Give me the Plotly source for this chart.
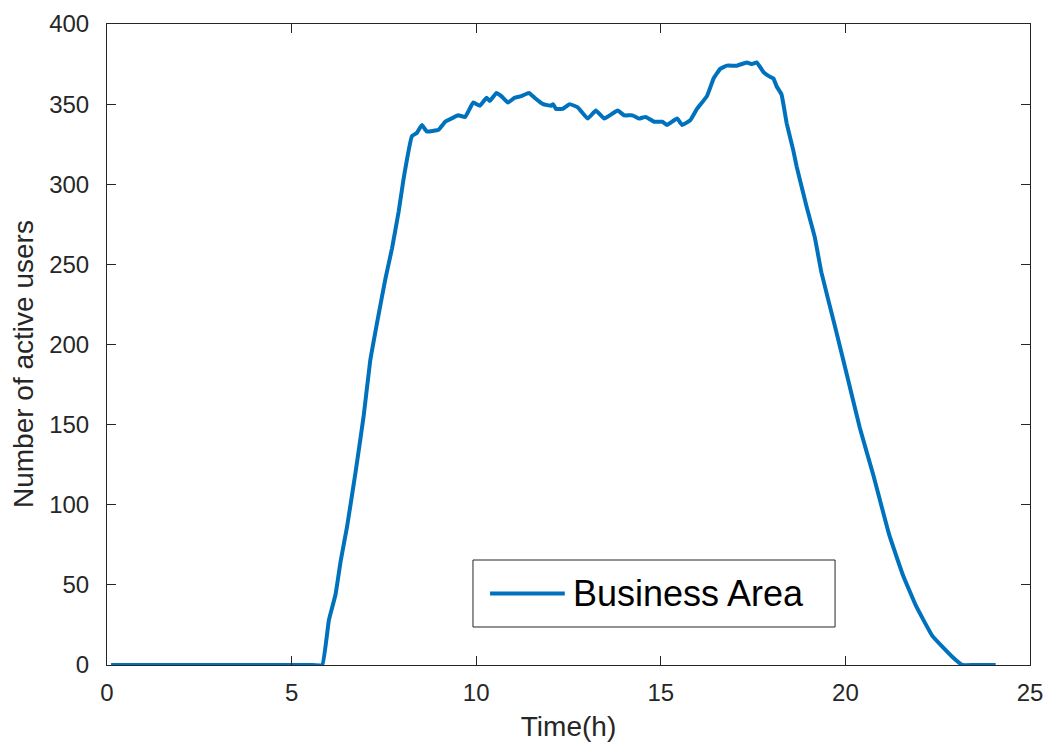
import plotly.graph_objects as go

time_h = [0.11, 2.0, 4.0, 5.5, 5.83, 6.01, 6.19, 6.33, 6.5, 6.73, 6.95, 7.13, 7.31, 7.54, 7.72, 7.9, 8.03,
          8.26, 8.39, 8.53, 8.66, 8.98, 9.16, 9.33, 9.51, 9.7, 9.92, 10.1, 10.28, 10.37,
          10.55, 10.68, 10.86, 11.04, 11.22, 11.43, 11.58, 11.81, 12.03, 12.08, 12.16, 12.34,
          12.53, 12.75, 13.02, 13.24, 13.47, 13.83, 14.01, 14.23, 14.41, 14.59, 14.82, 15.04,
          15.17, 15.44, 15.58, 15.8, 15.98, 16.25, 16.43, 16.61, 16.79, 17.06, 17.33, 17.47,
          17.6, 17.78, 17.96, 18.05, 18.14, 18.27, 18.41, 18.59, 18.68, 18.95, 19.17, 19.35,
          19.71, 20.03, 20.39, 20.75, 21.19, 21.56, 21.91, 22.36, 22.9, 23.17, 23.5, 24.07]
users = [0, 0, 0, 0, 0, 28, 44, 65, 86, 120, 155, 190, 213, 241, 260, 283, 303,
         330, 332, 337, 333, 334, 339, 341, 343, 342, 351, 349, 354, 352,
         357, 355, 351, 354, 355, 357, 354, 350, 349, 350, 347, 347,
         350, 348, 341, 346, 341, 346, 343, 343, 341, 342, 339, 339,
         337, 341, 337, 340, 347, 355, 366, 372, 374, 374, 376, 375,
         376, 370, 367, 366, 361, 356, 338, 321, 311, 286, 267, 245,
         212, 182, 148, 119, 81, 56, 37, 18, 5, 0, 0, 0]

x_ticks = [0, 5, 10, 15, 20, 25]
y_ticks = [0, 50, 100, 150, 200, 250, 300, 350, 400]
series_name = "Business Area"
x_title = "Time(h)"
y_title = "Number of active users"
color = "#0072BD"
axis_col = "#262626"
font_family = "Liberation Sans, Arial, sans-serif"

fig = go.Figure()
fig.add_trace(go.Scatter(x=time_h, y=users, mode="lines", name=series_name,
                         line=dict(color=color, width=4, shape="spline", smoothing=0.3),
                         showlegend=False))

axis_common = dict(showgrid=False, zeroline=False, showline=True, linecolor=axis_col,
                   linewidth=1, mirror="ticks", ticks="inside", ticklen=9, tickcolor=axis_col,
                   automargin=False,
                   tickfont=dict(family=font_family, size=24, color=axis_col))

fig.update_xaxes(range=[0, 25], tickvals=x_ticks, ticklabelstandoff=6,
                 title=dict(text=x_title, standoff=13,
                            font=dict(family=font_family, size=28, color=axis_col)),
                 **axis_common)
fig.update_yaxes(range=[0, 400], tickvals=y_ticks, ticklabelstandoff=12, **axis_common)

# y-axis title placed as in reference (slightly below the axis centre)
fig.add_annotation(xref="paper", yref="paper", x=-0.0899, y=0.4696, xanchor="center",
                   yanchor="middle", textangle=-90, text=y_title, showarrow=False,
                   font=dict(family=font_family, size=28, color=axis_col))

# legend box drawn manually (long line sample as in reference)
fig.add_shape(type="rect", xref="paper", yref="paper", x0=0.3965, x1=0.7888, y0=0.0593, y1=0.1638,
              line=dict(color=axis_col, width=1), fillcolor="white", layer="above")
fig.add_shape(type="line", xref="paper", yref="paper", x0=0.415, x1=0.496, y0=0.1115, y1=0.1115,
              line=dict(color=color, width=4), layer="above")
fig.add_annotation(xref="paper", yref="paper", x=0.503, y=0.1115, xanchor="left", yanchor="middle",
                   text=series_name, showarrow=False,
                   font=dict(family=font_family, size=36, color="black"))

fig.update_layout(width=1048, height=742, paper_bgcolor="white", plot_bgcolor="white",
                  margin=dict(l=107, r=18, t=24, b=77))

# remove the default page margin so the figure fills the window exactly
fig.write_html("out.html", config={"displayModeBar": False},
               post_script="document.body.style.margin='0';document.body.style.overflow='hidden';")
